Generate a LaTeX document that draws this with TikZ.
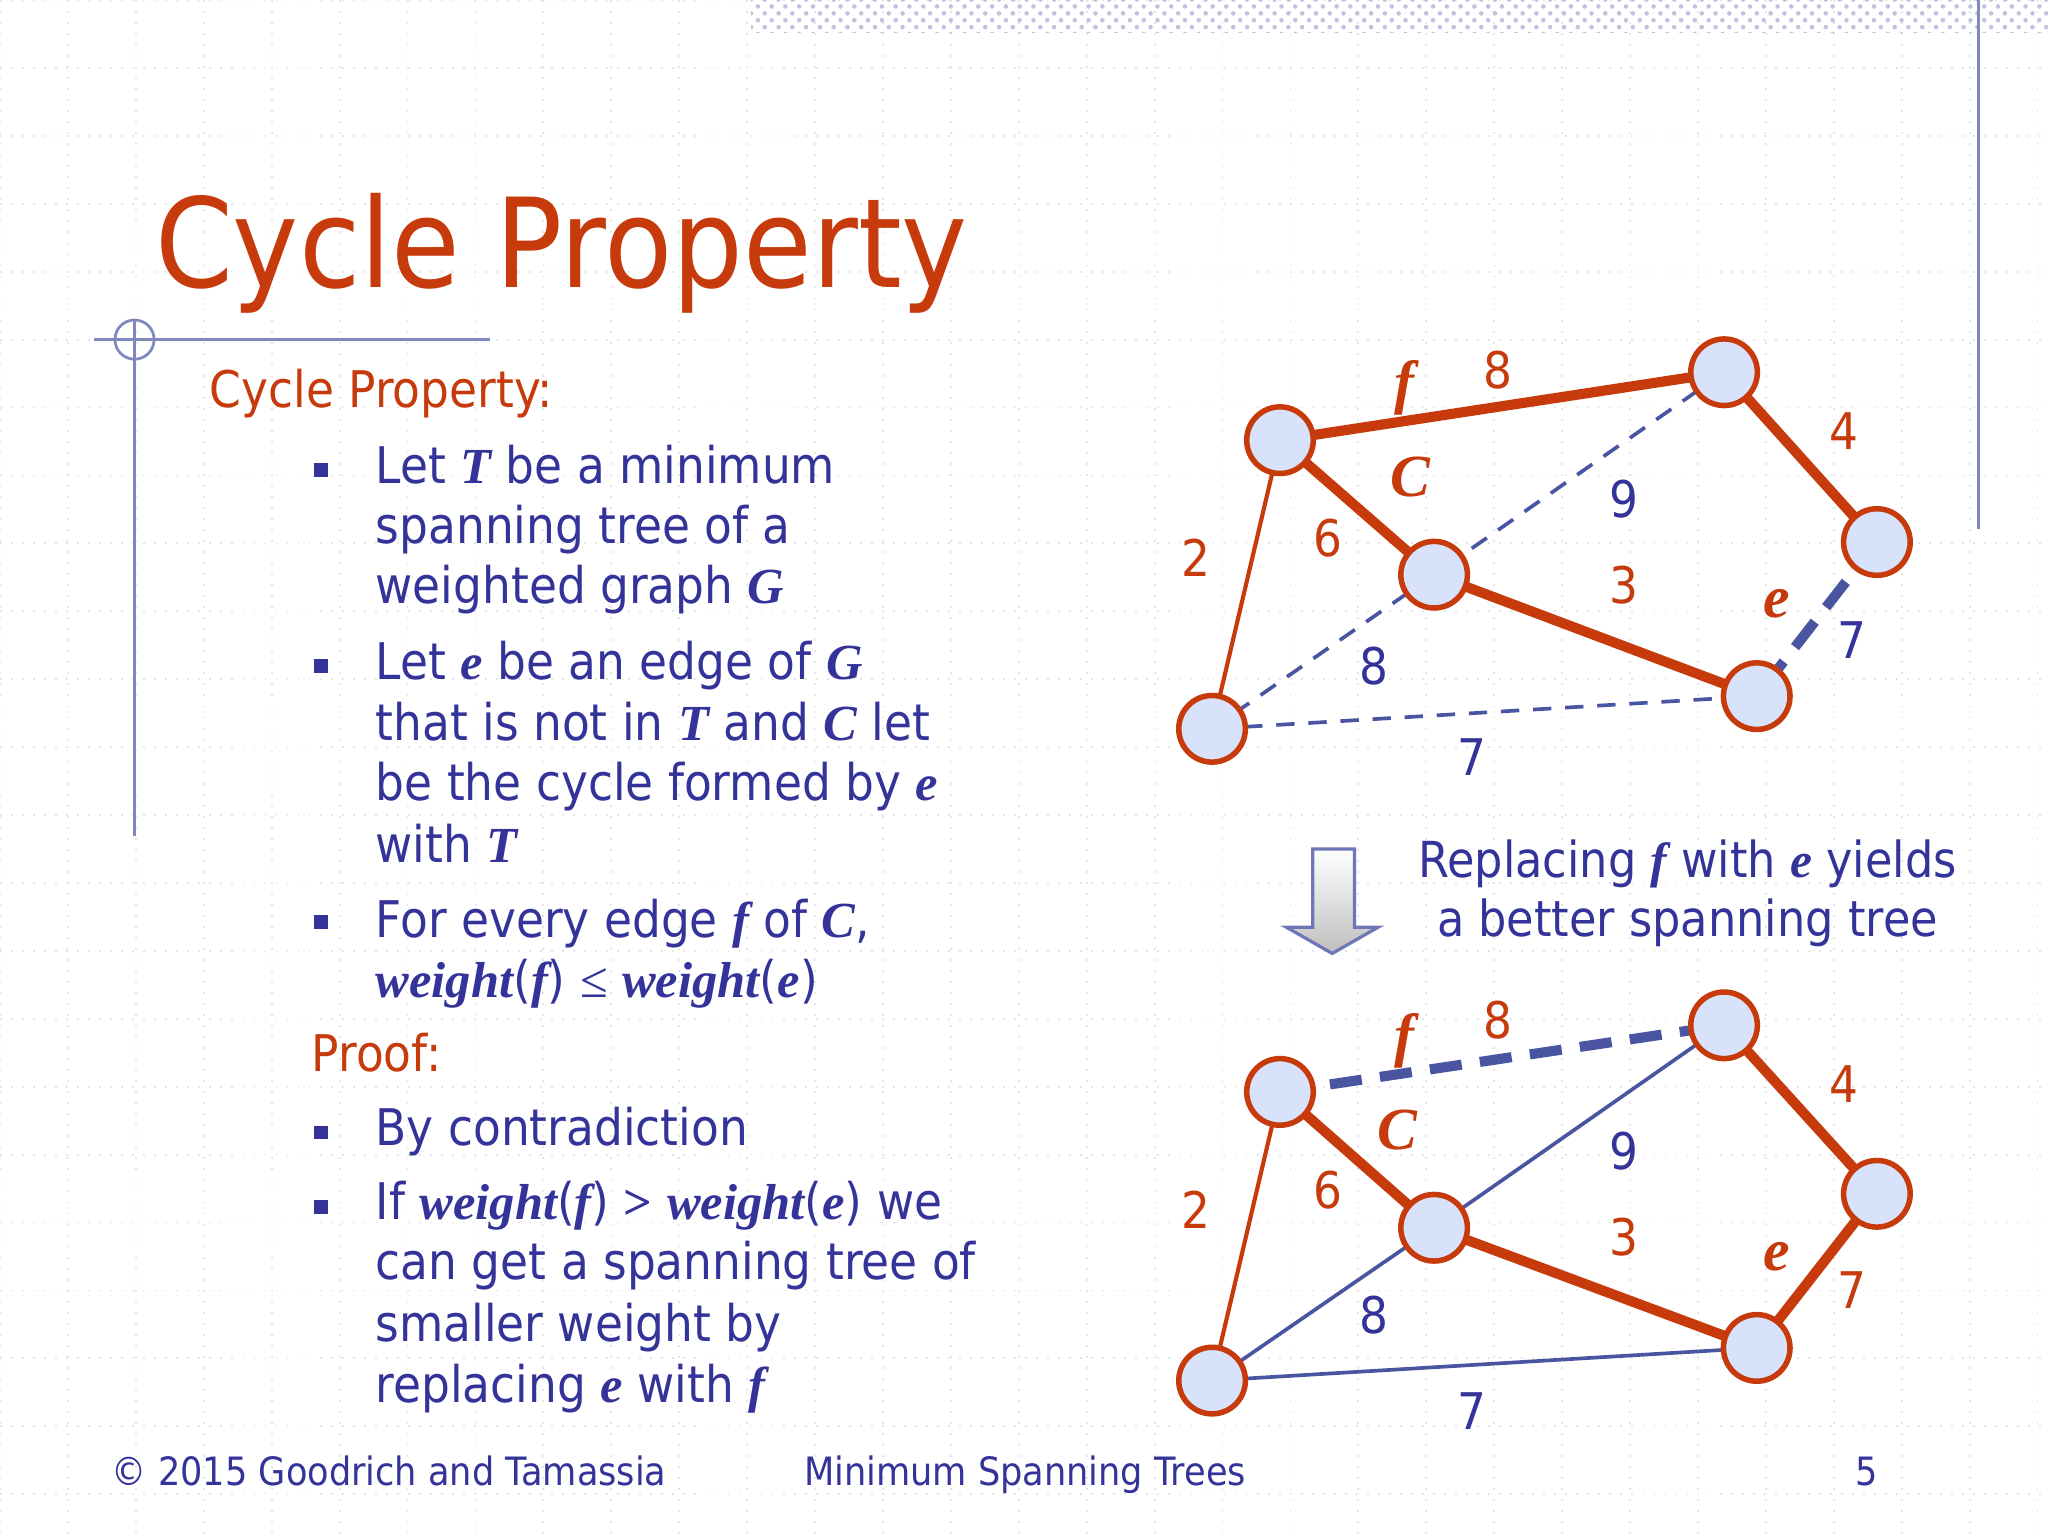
\documentclass[tikz,border=0pt]{standalone}
\usepackage{fontspec}
\setmainfont{DejaVu Sans}[FakeStretch=0.9]
\newfontfamily\mifont{Liberation Serif}
\newcommand{\mm}[1]{{\mifont\bfseries\itshape #1}}
\usetikzlibrary{patterns}
\definecolor{rd}{HTML}{C63A0C}
\definecolor{bl}{HTML}{333399}
\definecolor{nf}{HTML}{D8E2FA}
\definecolor{ln}{HTML}{4A55A2}
\tikzset{
 vx/.style={circle,draw=rd,fill=nf,line width=1.2pt,minimum size=14.5pt,inner sep=0pt},
 tr/.style={draw=rd,line width=2.2pt},
 thr/.style={draw=rd,line width=0.9pt},
 tb/.style={draw=ln,line width=0.8pt},
 tbd/.style={draw=ln,line width=0.8pt,dash pattern=on 4pt off 3pt},
 tbD/.style={draw=ln,line width=2.2pt,dash pattern=on 7pt off 4pt},
 wl/.style={font=\fontsize{11}{13}\selectfont,inner sep=0pt},
 tx/.style={anchor=base west,inner sep=0pt,text=bl,font=\fontsize{11}{13}\selectfont},
 bul/.style={fill=bl,minimum size=3pt,inner sep=0pt}
}
\begin{document}
\begin{tikzpicture}[x=0.01cm,y=-0.01cm]
\useasboundingbox (0,0) rectangle (1568,1176);
\fill[white] (0,0) rectangle (1568,1176);
\foreach \i in {0,52,...,1568} \draw[black!10,dotted] (\i,0)--(\i,1176);
\foreach \i in {0,52,...,1176} \draw[black!10,dotted] (0,\i)--(1568,\i);
\fill[pattern=crosshatch dots,pattern color=bl!30] (575,0) rectangle (1568,25);
\draw[ln!70,line width=0.6pt] (1515,0)--(1515,405);
\draw[ln!70,line width=0.6pt] (72,260)--(375,260) (103,245)--(103,640);
\draw[ln!70,line width=0.6pt] (103,260) circle (15);
% title
\node[anchor=base west,inner sep=0pt,text=rd,font=\fontsize{27}{30}\selectfont] (title) at (118,220) {Cycle Property};
\node[tx,text=rd] (h1) at (160,312) {Cycle Property:};
\foreach \y in {360,510,706,867,924} \node[bul] at (246,\y) {};
\node[tx] (l1) at (287,370) {Let \mm{T} be a minimum};
\node[tx] (l2) at (287,416) {spanning tree of a};
\node[tx] (l3) at (287,462) {weighted graph \mm{G}};
\node[tx] (l4) at (287,520) {Let \mm{e} be an edge of \mm{G}};
\node[tx] (l5) at (287,567) {that is not in \mm{T} and \mm{C} let};
\node[tx] (l6) at (287,613) {be the cycle formed by \mm{e}};
\node[tx] (l7) at (287,660) {with \mm{T}};
\node[tx] (l8) at (287,718) {For every edge \mm{f} of \mm{C},};
\node[tx] (l9) at (287,764) {\mm{weight}({\mifont\itshape\bfseries f}) {\mifont≤} \mm{weight}(\mm{e})};
\node[tx,text=rd] (pr) at (238,820) {Proof:};
\node[tx] (p1) at (287,877) {By contradiction};
\node[tx] (p2) at (287,934) {If \mm{weight}(\mm{f}) {\mifont\bfseries >} \mm{weight}(\mm{e}) we};
\node[tx] (p3) at (287,980) {can get a spanning tree of};
\node[tx] (p4) at (287,1027) {smaller weight by};
\node[tx] (p5) at (287,1074) {replacing \mm{e} with \mm{f}};
% footer
\node[tx,font=\fontsize{8.5}{10}\selectfont] (fa) at (85,1137) {© 2015 Goodrich and Tamassia};
\node[tx,font=\fontsize{8.5}{10}\selectfont] (fb) at (615,1137) {Minimum Spanning Trees};
\node[tx,font=\fontsize{8.5}{10}\selectfont] (fc) at (1420,1137) {5};
% arrow
\shade[top color=white,bottom color=black!25,draw=ln!80,line width=0.7pt] (1005,650)--(1037,650)--(1037,710)--(1055,710)--(1020,730)--(985,710)--(1005,710)--cycle;
\node[tx,anchor=base,font=\fontsize{10.8}{13}\selectfont] (r1) at (1292,672) {Replacing \mm{f} with \mm{e} yields};
\node[tx,anchor=base,font=\fontsize{10.8}{13}\selectfont] (r2) at (1292,717) {a better spanning tree};
% top graph
\foreach \n/\x/\y in {A/980/337,B/1320/285,C/1437/415,D/1098/440,E/1345/533,F/928/558}
  \coordinate (c\n) at (\x,\y);
\draw[tbd] (cB)--(cD); \draw[tbd] (cD)--(cF); \draw[tbd] (cF)--(cE); \draw[tbD] (cC)--(cE);
\draw[tr] (cA)--(cB) (cB)--(cC) (cA)--(cD) (cD)--(cE); \draw[thr] (cA)--(cF);
\foreach \n in {A,B,C,D,E,F} \node[vx] (\n) at (c\n) {};
\node[wl,text=rd] at (1075,297) {\mm{\fontsize{13}{14}\selectfont f}};
\node[wl,text=rd] at (1147,283) {8};
\node[wl,text=rd] at (1080,365) {\mm{\fontsize{13}{14}\selectfont C}};
\node[wl,text=rd] at (1412,330) {4};
\node[wl,text=rd] at (1017,412) {6};
\node[wl,text=bl] at (1243,382) {9};
\node[wl,text=rd] at (1243,448) {3};
\node[wl,text=rd] at (916,427) {2};
\node[wl,text=rd] at (1360,462) {\mm{\fontsize{13}{14}\selectfont e}};
\node[wl,text=bl] at (1418,490) {7};
\node[wl,text=bl] at (1052,510) {8};
\node[wl,text=bl] at (1127,580) {7};
% bottom graph
\foreach \n/\x/\y in {A/980/836,B/1320/785,C/1437/914,D/1098/940,E/1345/1032,F/928/1057}
  \coordinate (d\n) at (\x,\y);
\draw[tb] (dB)--(dD) (dD)--(dF) (dF)--(dE); \draw[tbD] (dA)--(dB);
\draw[tr] (dC)--(dE) (dB)--(dC) (dA)--(dD) (dD)--(dE); \draw[thr] (dA)--(dF);
\foreach \n in {A,B,C,D,E,F} \node[vx] (b\n) at (d\n) {};
\node[wl,text=rd] at (1075,797) {\mm{\fontsize{13}{14}\selectfont f}};
\node[wl,text=rd] at (1147,781) {8};
\node[wl,text=rd] at (1070,865) {\mm{\fontsize{13}{14}\selectfont C}};
\node[wl,text=rd] at (1412,830) {4};
\node[wl,text=rd] at (1017,911) {6};
\node[wl,text=bl] at (1243,881) {9};
\node[wl,text=rd] at (1243,947) {3};
\node[wl,text=rd] at (916,926) {2};
\node[wl,text=rd] at (1360,962) {\mm{\fontsize{13}{14}\selectfont e}};
\node[wl,text=rd] at (1418,988) {7};
\node[wl,text=bl] at (1052,1007) {8};
\node[wl,text=bl] at (1127,1080) {7};
\end{tikzpicture}
\end{document}
